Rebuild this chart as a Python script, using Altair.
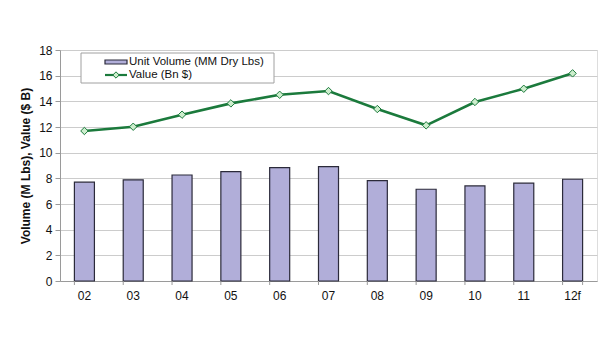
import altair as alt
import pandas as pd

years = ["02", "03", "04", "05", "06", "07", "08", "09", "10", "11", "12f"]
volume = [7.70, 7.88, 8.26, 8.52, 8.83, 8.91, 7.82, 7.15, 7.41, 7.62, 7.93]
value = [11.69, 12.02, 12.96, 13.84, 14.51, 14.80, 13.40, 12.13, 13.95, 14.98, 16.18]
legend_labels = ["Unit Volume (MM Dry Lbs)", "Value (Bn $)"]
y_ticks = [0, 2, 4, 6, 8, 10, 12, 14, 16, 18]

df = pd.DataFrame({"year": years, "volume": volume, "value": value})

FONT = "Liberation Sans"
BAR_FILL = "#b1aed9"
BAR_STROKE = "#2b2a3a"
GREEN = "#1b7a3c"
PT_FILL = "#cdeecd"
AXIS_GRAY = "#9a9a9a"

y_scale = alt.Scale(domain=[0, 18], nice=False)
y_axis = alt.Axis(values=y_ticks, tickCount=20, labelOverlap=False, tickSize=5,
                  tickColor=AXIS_GRAY, domainColor=AXIS_GRAY,
                  gridColor="#cccccc", labelFontSize=12,
                  labelColor="#111", labelPadding=3,
                  titleFontSize=12, titleFontWeight="bold",
                  titleColor="#111", titlePadding=6)
x_axis = alt.Axis(labelAngle=0, ticks=False, labelPadding=9,
                  labelFontSize=12, labelColor="#111",
                  domainColor=AXIS_GRAY, grid=False)
x_scale = alt.Scale(paddingInner=0.59, paddingOuter=0.295)

def xenc(**kw):
    return alt.X("year:N", sort=years, title=None, scale=x_scale, axis=x_axis, **kw)

def yenc(field):
    return alt.Y(field, scale=y_scale, title="Volume (M Lbs), Value ($ B)", axis=y_axis)

bars = alt.Chart(df).mark_bar(fill=BAR_FILL, stroke=BAR_STROKE, strokeWidth=1.2).encode(
    x=xenc(), y=yenc("volume:Q"))

line = alt.Chart(df).mark_line(color=GREEN, strokeWidth=2.6).encode(
    x=xenc(), y=yenc("value:Q"))

pts = alt.Chart(df).mark_point(shape="diamond", filled=True, fill=PT_FILL,
                               stroke=GREEN, strokeWidth=1, size=55, opacity=1).encode(
    x=xenc(), y=yenc("value:Q"))

# category-boundary tick marks on the x axis (Excel style)
edge_ticks = alt.Chart(df).mark_rule(color=AXIS_GRAY, strokeWidth=1).encode(
    x=xenc(bandPosition=0), y=alt.value(231), y2=alt.value(235))
end_tick = alt.Chart(df.tail(1)).mark_rule(color=AXIS_GRAY, strokeWidth=1).encode(
    x=xenc(bandPosition=1), y=alt.value(231), y2=alt.value(235))

# legend (decoration)
leg_df = pd.DataFrame({"label": legend_labels})
box = alt.Chart(leg_df.head(1)).mark_rect(fill="white", stroke="#a0a0a0", strokeWidth=1).encode(
    x=alt.value(21), x2=alt.value(214), y=alt.value(3), y2=alt.value(33))
swatch = alt.Chart(leg_df.head(1)).mark_rect(fill=BAR_FILL, stroke=BAR_STROKE, strokeWidth=1.2).encode(
    x=alt.value(45), x2=alt.value(67), y=alt.value(10), y2=alt.value(14))
legline = alt.Chart(leg_df.head(1)).mark_rule(color=GREEN, strokeWidth=2.2).encode(
    x=alt.value(45), x2=alt.value(67), y=alt.value(25))
legpt = alt.Chart(leg_df.head(1)).mark_point(shape="diamond", filled=True, fill=PT_FILL,
                                              stroke=GREEN, strokeWidth=1, size=40, opacity=1).encode(
    x=alt.value(56), y=alt.value(25))
t1 = alt.Chart(leg_df.head(1)).mark_text(align="left", baseline="middle", font=FONT,
                                          fontSize=11.5, color="#111").encode(
    x=alt.value(69), y=alt.value(12), text="label:N")
t2 = alt.Chart(leg_df.tail(1)).mark_text(align="left", baseline="middle", font=FONT,
                                          fontSize=11.5, color="#111").encode(
    x=alt.value(69), y=alt.value(25), text="label:N")

chart = alt.layer(bars, line, pts, edge_ticks, end_tick,
                  box, swatch, legline, legpt, t1, t2).properties(
    width=537, height=231,
    autosize=alt.AutoSizeParams(type="none"),
    padding={"left": 60, "top": 50, "right": 18, "bottom": 69},
).configure_view(stroke=None).configure(font=FONT)

chart.save("out.html", embed_options={"renderer": "svg", "actions": False})
